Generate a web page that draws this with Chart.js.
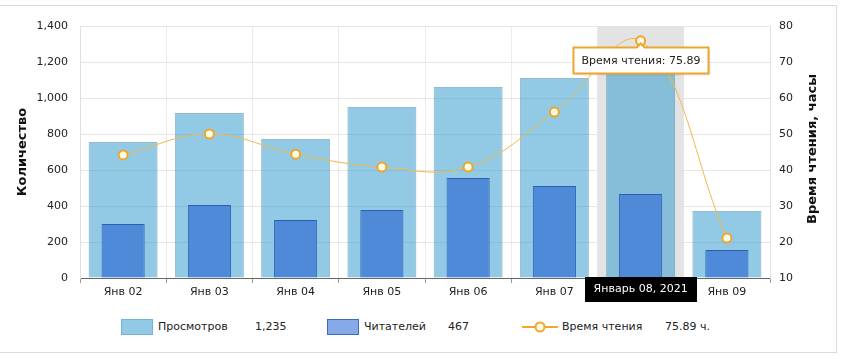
<!DOCTYPE html>
<html>
<head>
<meta charset="utf-8">
<script src="https://cdn.jsdelivr.net/npm/chart.js@4/dist/chart.umd.min.js"></script>
<style>
  html, body { margin: 0; padding: 0; background: #fff; }
  #wrap { position: relative; width: 847px; height: 364px; overflow: hidden; font-family: "DejaVu Sans", sans-serif; }
  #frame { position: absolute; left: -1px; top: 5px; width: 838px; height: 348px; border: 1px solid #dadada; box-sizing: border-box; }
  #cv { position: absolute; left: 0; top: 0; }
  .lg { position: absolute; font-size: 11px; color: #222; line-height: 16px; top: 319px; white-space: nowrap; }
  .sq { position: absolute; top: 319px; width: 32px; height: 16px; box-sizing: border-box; }
</style>
</head>
<body>
<div id="wrap">
  <div id="frame"></div>
  <canvas id="cv" width="847" height="310"></canvas>
  <div class="sq" style="left:121px;background:#92c9e6;border:1px solid #74b3d4;"></div>
  <div class="lg" id="l1" style="left:158px;"></div>
  <div class="lg" id="v1" style="left:255px;"></div>
  <div class="sq" style="left:327px;background:#86a9e8;border:1px solid #3c6cc0;"></div>
  <div class="lg" id="l2" style="left:364px;"></div>
  <div class="lg" id="v2" style="left:448px;"></div>
  <svg style="position:absolute;left:522px;top:319px;" width="36" height="16">
    <line x1="0" y1="8" x2="36" y2="8" stroke="#f0a82a" stroke-width="2"/>
    <circle cx="18" cy="8" r="4.5" fill="#fffbe8" stroke="#f0a82a" stroke-width="2"/>
  </svg>
  <div class="lg" id="l3" style="left:562px;"></div>
  <div class="lg" id="v3" style="left:665px;"></div>
</div>
<script>
// ---- data ----
const categories = ['Янв 02', 'Янв 03', 'Янв 04', 'Янв 05', 'Янв 06', 'Янв 07', 'Янв 08', 'Янв 09'];
const views = [755, 917, 772, 950, 1061, 1111, 1235, 372];
const readers = [300, 405, 322, 378, 555, 511, 467, 155];
const readTime = [44.2, 50.0, 44.4, 40.8, 40.8, 56.1, 75.89, 21.1];
const seriesNames = ['Просмотров', 'Читателей', 'Время чтения'];
const leftTicks = [0, 200, 400, 600, 800, 1000, 1200, 1400];
const rightTicks = [10, 20, 30, 40, 50, 60, 70, 80];
const highlightIndex = 6;
const highlightLabel = 'Январь 08, 2021';
const leftTitle = 'Количество';
const rightTitle = 'Время чтения, часы';
const timeUnit = 'ч.';

const FONT = 'DejaVu Sans';
const fmt = v => Number(v).toLocaleString('en-US');

document.getElementById('l1').textContent = seriesNames[0];
document.getElementById('l2').textContent = seriesNames[1];
document.getElementById('l3').textContent = seriesNames[2];
document.getElementById('v1').textContent = fmt(views[highlightIndex]);
document.getElementById('v2').textContent = fmt(readers[highlightIndex]);
document.getElementById('v3').textContent = readTime[highlightIndex].toFixed(2) + ' ' + timeUnit;

const overlay = {
  id: 'overlay',
  beforeDatasetsDraw(chart) {
    const {ctx, chartArea, scales} = chart;
    const x = scales.x;
    const w = chartArea.width / categories.length;
    const cx = x.getPixelForValue(highlightIndex);
    ctx.save();
    ctx.fillStyle = '#e3e3e3';
    ctx.fillRect(cx - w / 2, chartArea.top, w, chartArea.bottom - chartArea.top);
    ctx.restore();
  },
  afterDraw(chart) {
    const {ctx, chartArea, scales} = chart;
    const cx = scales.x.getPixelForValue(highlightIndex);
    ctx.save();
    // right axis title (reads bottom-to-top)
    ctx.save();
    ctx.translate(scales.y1.right - 34, (chartArea.top + chartArea.bottom) / 2 - 3);
    ctx.rotate(-Math.PI / 2);
    ctx.font = 'bold 13px "' + FONT + '"';
    ctx.fillStyle = '#111';
    ctx.textAlign = 'center';
    ctx.textBaseline = 'middle';
    ctx.fillText(rightTitle, 0, 0);
    ctx.restore();
    // x label highlight
    ctx.font = '11px "' + FONT + '"';
    const bw = 112, bh = 25;
    ctx.fillStyle = '#000';
    ctx.fillRect(Math.round(cx - bw / 2), chartArea.bottom - 1, bw, bh);
    ctx.fillStyle = '#fff';
    ctx.textAlign = 'center';
    ctx.textBaseline = 'middle';
    ctx.fillText(highlightLabel, cx, chartArea.bottom + 11);
    // tooltip
    const meta = chart.getDatasetMeta(0);
    const pt = meta.data[highlightIndex];
    const tw = 135, th = 26;
    const tx = Math.round(pt.x - tw / 2) + 0.5, ty = Math.round(pt.y + 6) + 0.5;
    ctx.fillStyle = 'rgba(0,0,0,0.08)';
    ctx.fillRect(tx + 2, ty + 2, tw, th);
    ctx.beginPath();
    ctx.moveTo(tx, ty);
    ctx.lineTo(pt.x - 4, ty);
    ctx.lineTo(pt.x, ty - 4);
    ctx.lineTo(pt.x + 4, ty);
    ctx.lineTo(tx + tw, ty);
    ctx.lineTo(tx + tw, ty + th);
    ctx.lineTo(tx, ty + th);
    ctx.closePath();
    ctx.fillStyle = '#fff';
    ctx.fill();
    ctx.strokeStyle = '#eea52a';
    ctx.lineWidth = 2;
    ctx.stroke();
    ctx.fillStyle = '#222';
    ctx.textAlign = 'center';
    ctx.fillText(seriesNames[2] + ': ' + readTime[highlightIndex].toFixed(2), tx + tw / 2, ty + th / 2 + 0.5);
    ctx.restore();
  }
};

new Chart(document.getElementById('cv'), {
  type: 'bar',
  data: {
    labels: categories,
    datasets: [
      {
        type: 'line',
        label: seriesNames[2],
        data: readTime,
        yAxisID: 'y1',
        borderColor: '#f2b84a',
        borderWidth: 1,
        tension: 0.4,
        pointRadius: 4.5,
        pointBorderWidth: 2,
        pointBackgroundColor: '#fffbe8',
        pointBorderColor: '#eea52a',
        order: 0
      },
      {
        label: seriesNames[1],
        data: readers,
        yAxisID: 'y',
        backgroundColor: '#4f8ad9',
        borderColor: '#2b5fb0',
        borderWidth: 1,
        barPercentage: 0.5,
        categoryPercentage: 1,
        grouped: false,
        order: 1
      },
      {
        label: seriesNames[0],
        data: views,
        yAxisID: 'y',
        backgroundColor: 'rgba(60,160,210,0.56)',
        borderColor: 'rgba(60,130,160,0.55)',
        borderWidth: 1,
        barPercentage: 0.8,
        categoryPercentage: 1,
        grouped: false,
        order: 2
      }
    ]
  },
  options: {
    responsive: false,
    animation: false,
    layout: { padding: { top: 26, left: 0, right: 0, bottom: 0 } },
    plugins: { legend: { display: false }, tooltip: { enabled: false } },
    scales: {
      x: {
        offset: true,
        grid: { offset: true, color: '#ebebeb', tickLength: 5, tickColor: '#999' },
        border: { color: '#666' },
        ticks: {
          font: { family: FONT, size: 11 }, color: '#222', padding: 3,
          maxRotation: 0, autoSkip: false,
          callback: (v, i) => i === highlightIndex ? '' : categories[i]
        },
        afterFit: s => { s.height = 32; }
      },
      y: {
        position: 'left',
        min: leftTicks[0], max: leftTicks[leftTicks.length - 1],
        afterBuildTicks: s => { s.ticks = leftTicks.map(v => ({ value: v })); },
        grid: { color: '#e6e6e6', drawTicks: false },
        border: { color: '#e0e0e0' },
        ticks: { font: { family: FONT, size: 11 }, color: '#222', padding: 12, callback: v => fmt(v) },
        title: { display: true, text: leftTitle, font: { family: FONT, size: 13, weight: 'bold' }, color: '#111', padding: { top: 15, bottom: 0 } },
        afterFit: s => { s.width = 80; }
      },
      y1: {
        position: 'right',
        min: rightTicks[0], max: rightTicks[rightTicks.length - 1],
        afterBuildTicks: s => { s.ticks = rightTicks.map(v => ({ value: v })); },
        grid: { drawOnChartArea: false, drawTicks: false },
        border: { color: '#e0e0e0' },
        ticks: { font: { family: FONT, size: 11 }, color: '#222', padding: 9 },
        afterFit: s => { s.width = 77; }
      }
    }
  },
  plugins: [overlay]
});
</script>
</body>
</html>
